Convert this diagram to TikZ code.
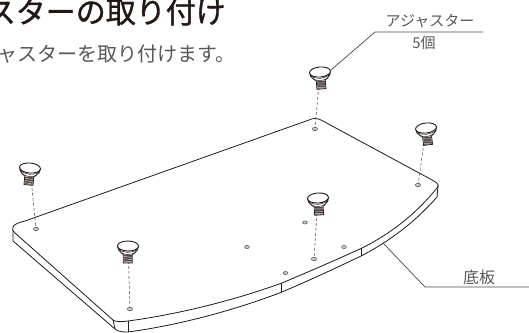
\documentclass[tikz,border=0pt]{standalone}
\usepackage{fontspec}
\setmainfont{Noto Sans CJK JP}
\newfontfamily\headfont[FakeBold=1.2]{Noto Sans CJK JP}
\definecolor{inkdark}{HTML}{231815}
\definecolor{inkgray}{HTML}{595757}
\tikzset{
    boardline/.style={inkdark,line width=0.8pt,line join=round},
    leader/.style={inkdark!80,line width=0.7pt},
    hole/.style={inkdark!80,line width=0.5pt,fill=gray!40},
    pinline/.style={inkdark!70,line width=0.6pt,densely dashed},
    labeltext/.style={inkgray,inner sep=0pt},
    adjuster/.pic={
        \draw[inkdark,line width=0.8pt,fill=white] (-10.5,0) .. controls (-10.5,3) and (-9,5) .. (-6.5,7) -- (-4.5,8.5) -- (-4.5,17) -- (4.5,17) -- (4.5,8.5) -- (6.5,7) .. controls (9,5) and (10.5,3) .. (10.5,0);
        \draw[inkdark,line width=0.9pt,fill=white] (0,0) ellipse (10.5 and 5);
        \draw[inkdark,line width=0.5pt] (-10,3) .. controls (-4,7.5) and (4,7.5) .. (10,3);
        \draw[inkdark,line width=0.5pt] (-6.5,7) .. controls (-3,9) and (3,9) .. (6.5,7);
        \fill[inkdark!80] (-4,9) rectangle (4,16.5);
        \foreach \y in {10.5,12.8,15}
            \draw[white!70!gray,line width=0.5pt] (-4,\y) -- (4,\y+0.8);
    }
}

\begin{document}
\begin{tikzpicture}[x=1pt,y=-1pt]
    \useasboundingbox (0,0) rectangle (529,332);
    \clip (0,0) rectangle (529,332);
    % headings
    \node[anchor=base east,inner sep=0pt,inkdark,font=\fontsize{30}{30}\headfont] (titletext) at (226,23) {スターの取り付け};
    \node[anchor=base east,inner sep=0pt,inkgray,font=\fontsize{20}{20}\selectfont] (subtext) at (236,61) {ャスターを取り付けます。};
    % board
    \draw[boardline] (113,320) -- (15,233) .. controls (10,228) and (12,224) .. (25,221)
        -- (309,120) .. controls (313,118) and (317,118) .. (321,120)
        -- (434,181) .. controls (439,184) and (439,186) .. (437,188)
        .. controls (415,215) and (390,234) .. (362,248)
        .. controls (336,260) and (308,272) .. (282,283)
        .. controls (235,300) and (180,314) .. (128,321) .. controls (120,322) and (116,322) .. (113,320);
    \draw[boardline] (13,230) -- (13,241) -- (115,329) .. controls (118,332) and (124,332) .. (128,332)
        .. controls (180,325) and (235,310) .. (282,292)
        .. controls (308,281) and (336,268) .. (361,256)
        .. controls (390,241) and (415,222) .. (437,197) -- (438,186);
    \draw[boardline] (113,320) -- (115,329);
    \draw[boardline] (128,321) -- (128,332);
    \draw[boardline] (281,283) -- (281,292);
    \draw[boardline] (361,248) -- (361,256);
    % small holes
    \foreach \hx/\hy in {247/247,305/222.5,344/247,285.5/273}
        \draw[hole] (\hx,\hy) ellipse (2.4 and 1.5);
    % adjusters with their holes
    \foreach \nm/\hx/\hy/\tx/\ty/\rot in {a/320/72/315/129/5,b/426/128/418/185/7,c/30/168/36/229/-5,d/128/246/130/309/-1,e/318/198/314/259/4}{
        \coordinate (\nm head) at (\hx,\hy);
        \coordinate (\nm hole) at (\tx,\ty);
        \draw[pinline] (\nm head) -- (\nm hole);
        \draw[hole] (\nm hole) ellipse (2.6 and 1.7);
        \pic[rotate=\rot] at (\nm head) {adjuster};
    }
    % leaders
    \coordinate (adjtip) at (331,70);
    \coordinate (adjbend) at (375,32);
    \coordinate (adjend) at (483,32);
    \coordinate (boardtip) at (383,243);
    \coordinate (boardbend) at (425,287);
    \coordinate (boardend) at (529,287);
    \draw[leader] (adjtip) -- (adjbend) -- (adjend);
    \draw[leader] (boardtip) -- (boardbend) -- (boardend);
    \node[labeltext,font=\fontsize{15}{15}\selectfont] (adjname) at (430,21) {アジャスター};
    \node[labeltext,font=\fontsize{15}{15}\selectfont] (adjcount) at (424,43) {5個};
    \node[labeltext,font=\fontsize{16}{16}\selectfont] (boardname) at (479,277) {底板};
\end{tikzpicture}
\end{document}
